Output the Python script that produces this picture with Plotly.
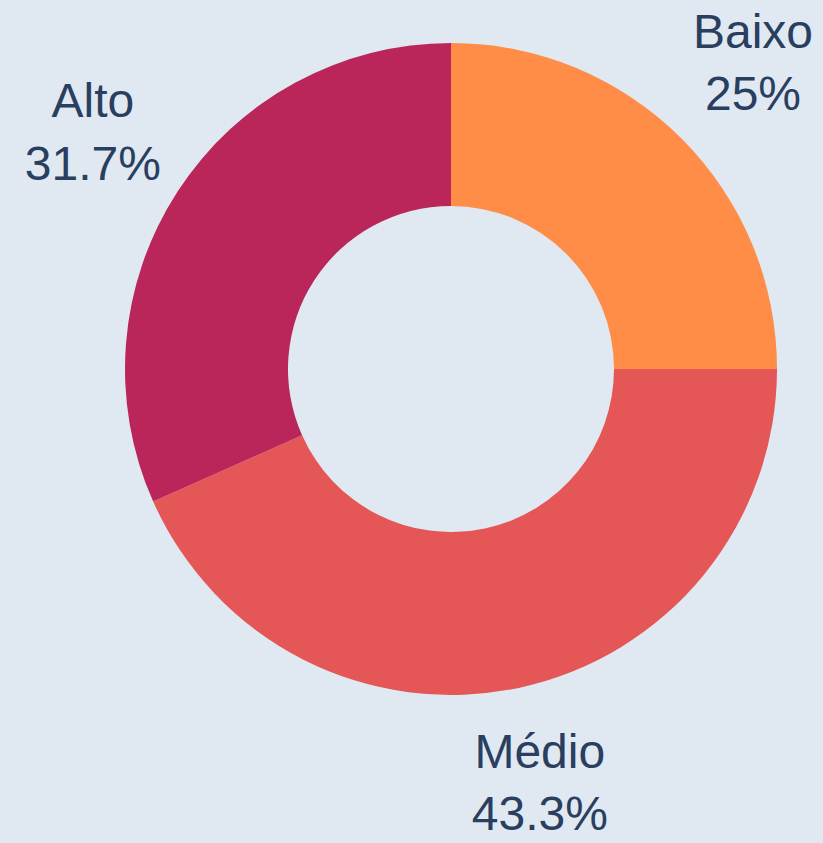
import math
import plotly.graph_objects as go

labels = ["Baixo", "Médio", "Alto"]
values = [15, 26, 19]
colors = ["#FF8C47", "#E45756", "#BA265A"]

total = sum(values)
# mid-angle of each slice (radians clockwise from 12 o'clock)
mids = []
acc = 0
for v in values:
    mids.append((acc + v / 2) / total * 2 * math.pi)
    acc += v


def fmt_pct(v):
    p = round(v / total * 100, 1)
    s = f"{p:.1f}".rstrip("0").rstrip(".")
    return s + "%"


texts = [f"{lab}<br>{fmt_pct(v)}" for lab, v in zip(labels, values)]

# layout geometry (pixels)
W, H = 823, 843
CX, CY, R = 451, 369, 326
dom_x = [(CX - R) / W, (CX + R) / W]
dom_y = [(H - CY - R) / H, (H - CY + R) / H]
LABEL_R = 1.31  # label distance relative to outer radius

# cartesian frame in units of the outer radius, centred on the donut
x_range = [(0 - CX) / R, (W - CX) / R]
y_range = [-(H - CY) / R, CY / R]

lx = [LABEL_R * math.sin(a) for a in mids]
ly = [LABEL_R * math.cos(a) for a in mids]

fig = go.Figure()
fig.add_trace(go.Scatter(
    x=lx,
    y=ly,
    mode="text",
    text=texts,
    textposition="middle center",
    textfont=dict(size=48, color="#2a3f5f", family="Liberation Sans, Arial, sans-serif"),
    cliponaxis=False,
    hoverinfo="skip",
    showlegend=False,
))
fig.add_trace(go.Pie(
    labels=labels,
    values=values,
    hole=0.5,
    sort=False,
    direction="clockwise",
    marker=dict(colors=colors),
    textinfo="none",
    hoverinfo="label+percent",
    showlegend=False,
    domain=dict(x=dom_x, y=dom_y),
))
fig.update_layout(
    width=W, height=H,
    paper_bgcolor="#E0E9F2",
    plot_bgcolor="rgba(0,0,0,0)",
    margin=dict(l=0, r=0, t=0, b=0),
    font=dict(family="Liberation Sans, Arial, sans-serif", color="#2a3f5f"),
    xaxis=dict(domain=[0, 1], range=x_range, visible=False, fixedrange=True),
    yaxis=dict(domain=[0, 1], range=y_range, visible=False, fixedrange=True),
)
fig.write_html(
    "out.html",
    config={"displayModeBar": False},
    post_script="document.body.style.margin='0';document.body.style.background='#E0E9F2';",
)
